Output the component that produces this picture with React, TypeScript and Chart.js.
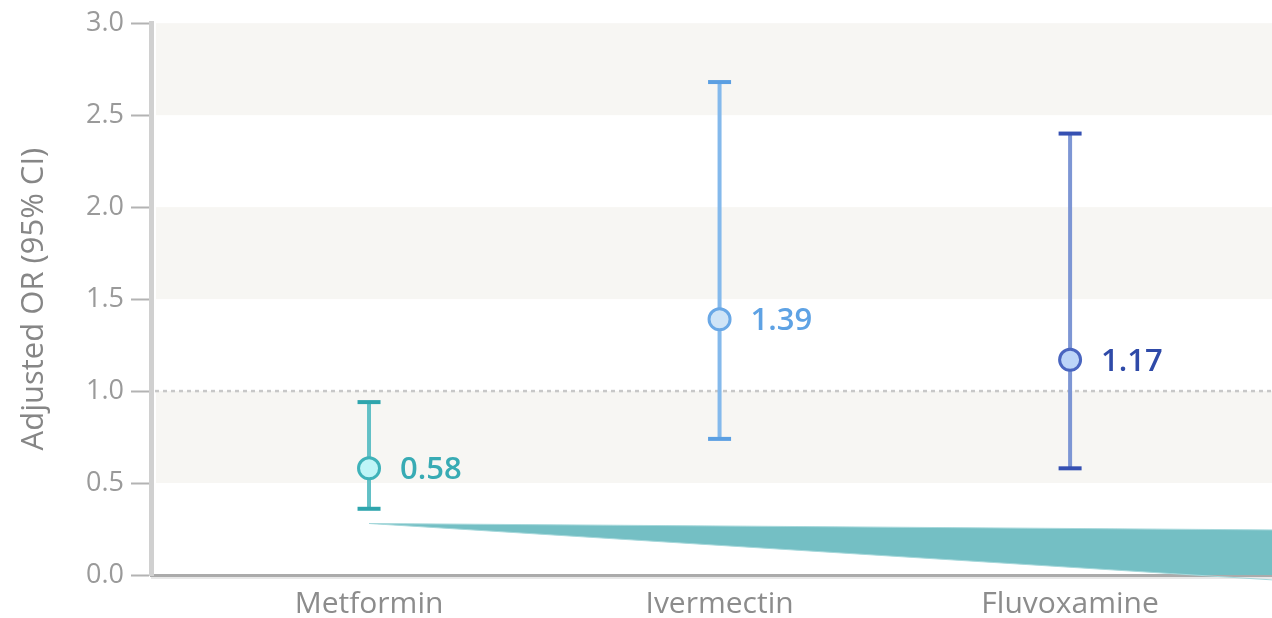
import React, { useEffect, useRef } from "react";
import { Chart, registerables } from "chart.js";

Chart.register(...registerables);

// ---- data ----
const categories = ["Metformin", "Ivermectin", "Fluvoxamine"];
const categoryX = [1, 2, 3];
const estimates = [0.58, 1.39, 1.17];
const lowerCI = [0.36, 0.74, 0.58];
const upperCI = [0.94, 2.68, 2.4];
const yTicks = [0, 0.5, 1, 1.5, 2, 2.5, 3];
const shadedBandLow = [0.5, 1.5, 2.5];
const shadedBandHigh = [1.0, 2.0, 3.0];
const referenceLine = 1.0;
const wedgeX = [1, 3.58];
const wedgeTop = [0.28, 0.245];
const wedgeBottom = [0.28, -0.027];
const xRange = [0.378, 3.576];

// ---- styles ----
const lineColors = ["#62c0c6", "#84b9ec", "#7d96d4"];
const capColors = ["#2ea5ad", "#5b9fe2", "#3550b2"];
const pointFills = ["#bff5f7", "#cfe4f7", "#bcd5f8"];
const pointBorders = ["#3fb2b9", "#6aa8e6", "#4a66c0"];
const labelColors = ["#38abb4", "#5ea2e4", "#2f4aa8"];
const FONT = "'Open Sans', sans-serif";

const forestPlugin = {
  id: "forest",
  beforeDraw(chart: any) {
    const { ctx, chartArea: a, scales } = chart;
    const y = scales.y;
    ctx.save();
    ctx.fillStyle = "#f7f6f3";
    for (let i = 0; i < shadedBandLow.length; i++) {
      const top = y.getPixelForValue(shadedBandHigh[i]);
      const bot = y.getPixelForValue(shadedBandLow[i]);
      ctx.fillRect(a.left + 5, top, a.right - a.left - 5, bot - top);
    }
    const ry = y.getPixelForValue(referenceLine);
    ctx.strokeStyle = "#c8c8c8";
    ctx.lineWidth = 2.5;
    ctx.setLineDash([4, 4]);
    ctx.beginPath();
    ctx.moveTo(a.left + 4, ry);
    ctx.lineTo(a.right, ry);
    ctx.stroke();
    ctx.setLineDash([]);
    const by = y.getPixelForValue(0) + 3;
    ctx.strokeStyle = "#e8e8e8";
    ctx.lineWidth = 2;
    ctx.beginPath();
    ctx.moveTo(a.left, by);
    ctx.lineTo(a.right, by);
    ctx.stroke();
    ctx.restore();
  },
  beforeDatasetsDraw(chart: any) {
    const { ctx, scales } = chart;
    const { x, y } = scales;
    ctx.save();
    for (let i = 0; i < categoryX.length; i++) {
      const px = x.getPixelForValue(categoryX[i]);
      const yl = y.getPixelForValue(lowerCI[i]);
      const yh = y.getPixelForValue(upperCI[i]);
      ctx.strokeStyle = lineColors[i];
      ctx.lineWidth = 4;
      ctx.beginPath();
      ctx.moveTo(px, yl);
      ctx.lineTo(px, yh);
      ctx.stroke();
      ctx.strokeStyle = capColors[i];
      ctx.lineWidth = 4;
      for (const cy of [yl, yh]) {
        ctx.beginPath();
        ctx.moveTo(px - 11.5, cy);
        ctx.lineTo(px + 11.5, cy);
        ctx.stroke();
      }
    }
    ctx.restore();
  },
  afterDatasetsDraw(chart: any) {
    const { ctx, scales } = chart;
    const { x, y } = scales;
    ctx.save();
    ctx.font = `600 31px ${FONT}`;
    ctx.textAlign = "left";
    ctx.textBaseline = "middle";
    for (let i = 0; i < categoryX.length; i++) {
      const px = x.getPixelForValue(categoryX[i]);
      const py = y.getPixelForValue(estimates[i]);
      ctx.fillStyle = labelColors[i];
      ctx.fillText(estimates[i].toFixed(2), px + 31, py + 2);
    }
    ctx.restore();
  },
};

export default function App() {
  const ref = useRef<HTMLCanvasElement | null>(null);
  useEffect(() => {
    if (!ref.current) return;
    Chart.defaults.font.family = FONT;
    const chart = new Chart(ref.current, {
      type: "line",
      data: {
        datasets: [
          {
            data: categoryX.map((v, i) => ({ x: v, y: estimates[i] })),
            showLine: false,
            pointRadius: 10.5,
            pointHoverRadius: 10.5,
            pointBorderWidth: 3,
            pointBackgroundColor: pointFills,
            pointBorderColor: pointBorders,
          },
          {
            data: wedgeX.map((v, i) => ({ x: v, y: wedgeTop[i] })),
            borderColor: "#a6d8db",
            borderWidth: 1,
            pointRadius: 0,
            fill: false,
            clip: false,
          },
          {
            data: wedgeX.map((v, i) => ({ x: v, y: wedgeBottom[i] })),
            borderColor: "#a6d8db",
            borderWidth: 1,
            pointRadius: 0,
            backgroundColor: "#74bfc4",
            fill: "-1",
            clip: false,
          },
        ] as any,
      },
      options: {
        animation: false,
        responsive: false,
        devicePixelRatio: 1,
        events: [],
        layout: { autoPadding: false, padding: { top: 21, left: 0, right: 0, bottom: 0 } },
        plugins: { legend: { display: false }, tooltip: { enabled: false } },
        scales: {
          x: {
            type: "linear",
            min: xRange[0],
            max: xRange[1],
            afterBuildTicks: (s: any) => {
              s.ticks = categoryX.map((v) => ({ value: v }));
            },
            afterFit: (s: any) => {
              s.height = 43;
              s.paddingLeft = 0;
              s.paddingRight = 0;
            },
            grid: { drawOnChartArea: false, drawTicks: false },
            border: { display: true, color: "#ababab", width: 3 },
            ticks: {
              padding: 11,
              color: "#8c8c8c",
              font: { size: 30 },
              maxRotation: 0,
              autoSkip: false,
              callback: (v: any) => {
                const idx = categoryX.indexOf(Number(v));
                return idx >= 0 ? categories[idx] : "";
              },
            },
          },
          y: {
            type: "linear",
            min: 0,
            max: 3,
            afterBuildTicks: (s: any) => {
              s.ticks = yTicks.map((v) => ({ value: v }));
            },
            afterFit: (s: any) => {
              s.width = 151;
            },
            grid: {
              drawOnChartArea: false,
              drawTicks: true,
              tickLength: 20,
              tickColor: "#b3b3b3",
              tickWidth: 2,
            },
            border: { display: true, color: "#d0d0d0", width: 5 },
            ticks: {
              padding: 7,
              color: "#9a9a9a",
              font: { size: 27 },
              callback: (v: any) => Number(v).toFixed(1),
            },
            title: {
              display: true,
              text: "Adjusted OR (95% CI)",
              color: "#868686",
              font: { size: 31 },
              padding: { top: 16, bottom: 0 },
            },
          },
        },
      } as any,
      plugins: [forestPlugin],
    });
    return () => chart.destroy();
  }, []);
  return (
    <div style={{ position: "fixed", left: 0, top: 0, width: 1272, height: 618, background: "#fff" }}>
      <canvas ref={ref} width={1272} height={618} style={{ display: "block" }} />
    </div>
  );
}
